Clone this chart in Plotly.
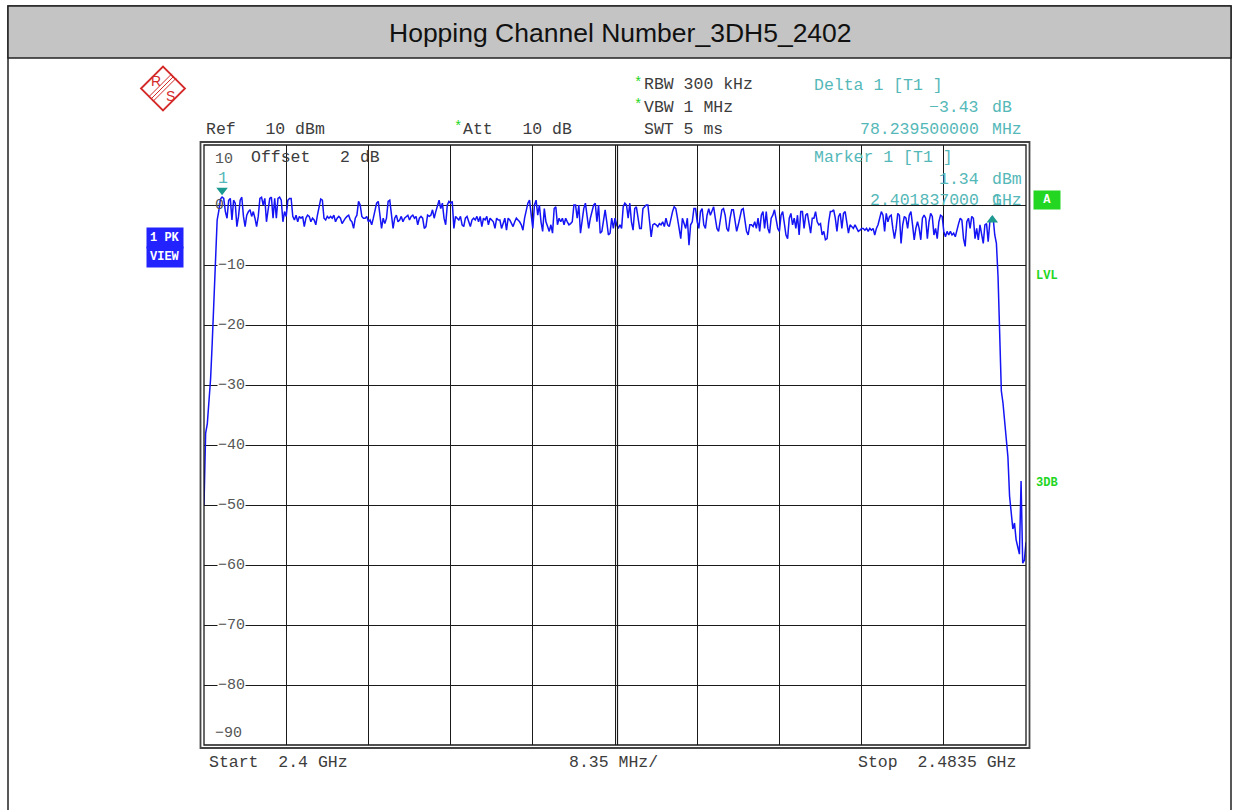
import numpy as np
import plotly.graph_objects as go

# ---- sweep settings -------------------------------------------------------
start_ghz = 2.4
stop_ghz = 2.4835
sweep_points = 501
freq_ghz = np.linspace(start_ghz, stop_ghz, sweep_points)

# ---- measured trace (dBm), grouped by sweep region ---------------------------
level_rise = [-50.0, -38.0, -36.5, -33.0, -29.0, -23.0, -16.0, -9.0, -2.5, -1.0, 1.0, 1.34]

level_band_1 = [
    1.1, -1.1, -2.2, 0.8, 1.1, -2.5, 0.8, 0.3, -3.6, -1.9,
    0.8, 1.3, -1.9, -3.6, -1.7, -1.1, -0.8, -1.9, -1.1, -2.2,
    -3.6, -1.9, 1.1, 1.3, 0.0, 1.1, -2.8, -0.8, 1.1, 1.3,
    -2.2, 1.1, -2.2, 1.1, 1.3, 0.8, -2.8, -1.1, -1.9, 0.8,
    1.1, 1.1, -1.9, -2.5, -1.7, -2.8, -1.9, -2.2, -1.9, -3.6,
    -2.2, -1.7, -1.9, -2.8, -2.2, -2.5, -3.3, -1.7, 0.0, 1.0,
    0.8, -2.2, -2.5, -1.9, -2.2, -1.9, -2.2, -1.7, -2.8, -2.2,
    -1.9, -2.2, -3.1, -2.5, -2.2, -1.9, -1.7, -2.5, -2.8, -3.9,
    -2.2, -1.7, 0.6, 0.0, -1.9, -2.2, -2.2, -1.9, -2.8, -2.5,
    -3.3, -2.2, -1.1, 0.3, 0.6, -2.2, -3.9, -2.2, -3.1, -2.2,
    0.6, 0.8, -1.7, -3.9, -2.2, -1.7, -2.8, -2.5, -1.9, -2.8,
    -2.2, -1.9, -1.7, -2.5,
]

level_band_2 = [
    -1.9, -1.7, -2.2, -1.9, -3.3, -2.2, -1.9, -2.2, -3.9, -3.6,
    -1.7, -1.9, -1.7, -0.8, -2.2, -1.1, 0.0, 0.8, -0.6, 0.3,
    -2.2, -3.3, 0.0, 0.6, 0.3, 0.6, -3.9, -1.9, -2.2, -2.5,
    -1.9, -3.3, -3.6, -2.2, -1.9, -2.8, -3.6, -2.5, -2.2, -2.5,
    -1.9, -2.8, -1.9, -3.6, -2.2, -2.5, -1.9, -3.3, -2.2, -2.5,
    -2.8, -3.9, -2.2, -2.5, -2.5, -3.9, -2.8, -2.2, -4.2, -2.2,
    -2.5, -3.1, -3.6, -2.8, -2.2, -2.5, -2.8, -3.3, -4.2, -2.2,
    -0.6, 0.3, 0.8, -2.2, -3.9, 0.0, 0.8, -1.7, 0.0, -2.8,
    -4.4, -0.6, -2.8, -3.6, -4.4, -3.3, -4.7, -0.6, -0.3, -3.3,
    -2.2, -2.8, -2.2, -3.3, -2.2, -2.8, -3.3, -3.1, -2.8, 0.0,
    0.0, -2.2, 0.0, -4.7, -2.2, -0.6, 0.3, -2.2, -3.9, -2.2,
    -1.1, 0.0, 0.3, -2.8, 0.0, -4.7, -4.4, -2.2, -0.8, -2.8,
    -5.0, -4.7, -2.2, -3.9, -2.2, -3.3, -3.9, -3.3,
]

level_band_3 = [
    -3.9, -0.3, 0.3, 0.0, -2.2, 0.3, -2.8, -4.2, -0.6, -0.3,
    -2.2, -3.9, -3.9, -0.6, -0.3, 0.0, 0.0, -2.2, -5.3, -3.3,
    -3.1, -3.3, -3.6, -3.1, -3.3, -2.8, -3.6, -2.2, -3.3, -3.6,
    -2.2, -1.1, -0.3, -0.6, -2.2, -3.9, -5.6, -2.2, -3.3, -3.9,
    -2.2, -6.7, -3.3, -2.8, -0.6, -0.6, -2.8, -3.9, -1.1, -0.6,
    -3.3, -3.9, -1.7, -0.6, -1.7, -0.8, -0.3, -2.2, -3.9, -4.4,
    -2.2, -0.8, -0.6, -1.7, -3.9, -4.4, -2.2, -0.8, -0.8, -2.8,
    -4.4, -3.3, -1.7, -0.8, -0.6, -2.2, -4.4, -5.0, -3.3, -3.3,
    -3.6, -2.8, -3.9, -2.2, -4.4, -1.7, -1.1, -3.9, -1.1, -3.9,
    -4.7, -2.2, -1.7, -0.8, -2.2, -3.9, -4.4, -1.7, -1.1, -2.8,
    -5.0, -5.6, -2.2, -1.4, -3.3, -2.2, -3.9, -1.7, -5.0, -1.1,
    -1.1, -3.9, -1.7, -1.4, -3.3, -4.7, -2.2, -2.2, -1.1, -2.8,
    -3.3, -3.1, -5.0, -4.4, -5.8, -5.6, -2.8, -1.1,
]

level_band_4 = [
    -1.1, -0.8, -2.2, -4.4, -1.9, -1.4, -3.9, -1.4, -1.1, -3.3,
    -4.7, -3.3, -3.6, -3.9, -3.3, -3.9, -4.4, -4.2, -3.9, -3.9,
    -4.2, -3.9, -4.4, -3.9, -4.2, -3.9, -5.0, -3.9, -3.3, -2.2,
    -1.1, -1.7, -4.4, -1.4, -2.8, -1.9, -1.7, -3.9, -5.6, -3.9,
    -1.4, -1.7, -6.4, -3.3, -1.9, -2.2, -3.9, -1.7, -1.1, -3.3,
    -5.8, -3.9, -2.8, -3.9, -5.8, -2.2, -1.7, -2.2, -5.6, -2.8,
    -1.4, -1.9, -5.0, -3.9, -5.6, -2.8, -1.7, -1.9, -4.4, -5.3,
    -4.4, -5.0, -4.4, -5.0, -4.7, -5.3, -3.9, -3.1, -2.2, -2.5,
    -5.6, -6.9, -2.8, -2.2, -3.9, -1.9, -2.2, -5.6, -3.9, -5.8,
    -3.3, -4.7, -6.4, -3.3, -3.1, -6.1, -2.8, -2.09, -2.09, -5.0,
]

level_fall = [-6.4, -12.0, -24.0, -31.0, -33.0, -36.0, -39.5, -42.0, -48.5, -51.0,
              -54.0, -53.0, -55.8, -57.0, -58.2, -46.0, -59.7, -59.2, -56.2]

level_dbm = level_rise + level_band_1 + level_band_2 + level_band_3 + level_band_4 + level_fall

# ---- markers -----------------------------------------------------------------
marker1_ghz = 2.401837
marker1_dbm = 1.34
delta1_mhz = 78.2395
delta1_db = -3.43
delta_ghz = marker1_ghz + delta1_mhz / 1000.0
delta_dbm = marker1_dbm + delta1_db

ref_dbm = 10
y_ticks = [10, 0, -10, -20, -30, -40, -50, -60, -70, -80, -90]

# ---- page geometry (pixels) --------------------------------------------------
W, H = 1233, 810
PL, PR, PT, PB = 204, 1026, 145, 745


def px(x):
    return (x - PL) / (PR - PL)


def py(y):
    return (PB - y) / (PB - PT)


MONO = "Liberation Mono"
SANS = "Liberation Sans"
GREY_TXT = "#3c3c3c"
TEAL = "#55b8b8"
GREEN = "#22d622"
BLUE = "#2323ff"
NB = "\u00a0"

fig = go.Figure()

fig.add_trace(go.Scatter(
    x=freq_ghz, y=level_dbm, mode="lines",
    line=dict(color="#1414f5", width=1.5),
    hoverinfo="skip", showlegend=False,
))

# marker symbols
fig.add_trace(go.Scatter(
    x=[marker1_ghz], y=[marker1_dbm + 1.1], mode="markers",
    marker=dict(symbol="triangle-down", size=10, color="#1d9a90"),
    hoverinfo="skip", showlegend=False, cliponaxis=False,
))
fig.add_trace(go.Scatter(
    x=[delta_ghz], y=[delta_dbm - 0.4], mode="markers",
    marker=dict(symbol="triangle-up", size=10, color="#1d9a90"),
    hoverinfo="skip", showlegend=False, cliponaxis=False,
))

shapes = []


def line(x0, y0, x1, y1, color="#1a1a1a", width=1.3):
    shapes.append(dict(type="line", xref="paper", yref="paper",
                       x0=px(x0), y0=py(y0), x1=px(x1), y1=py(y1),
                       line=dict(color=color, width=width)))


def rect(x0, y0, x1, y1, fill=None, color="#1a1a1a", width=1.3, layer="above"):
    shapes.append(dict(type="rect", xref="paper", yref="paper",
                       x0=px(x0), y0=py(y0), x1=px(x1), y1=py(y1),
                       fillcolor=fill if fill else "rgba(0,0,0,0)",
                       line=dict(color=color, width=width), layer=layer))


# page frame and title bar
rect(8, 6, 1231, 815, color="#222", width=1.5, layer="below")
rect(8, 6, 1231, 58, fill="#c4c4c4", color="#222", width=1.5, layer="below")

# graticule frame (double line) and double centre line
rect(PL, PT, PR, PB, color="#1a1a1a", width=1.3)
rect(200.5, 142, 1029.5, 748, color="#444", width=1.8)
line(617.5, PT, 617.5, PB, color="#1a1a1a", width=1.2)

# R&S logo
cx, cy = 163, 88.5
d = 22
shapes.append(dict(
    type="path", xref="paper", yref="paper",
    path="M {} {} L {} {} L {} {} L {} {} Z".format(
        px(cx - d), py(cy), px(cx), py(cy - d), px(cx + d), py(cy), px(cx), py(cy + d)),
    line=dict(color="#d42a2a", width=1.8), fillcolor="rgba(0,0,0,0)"))
for off in (-2.2, 0, 2.2):
    line(151 + off, 99 + off, 174 + off, 76 + off, color="#d42a2a", width=1.0)

fig.update_layout(shapes=shapes)

annotations = []


def note(x, y, text, color=GREY_TXT, size=16.5, anchor="left", bold=False,
         family=MONO, bg=None, pad=0):
    t = text.replace(" ", NB)
    if bold:
        t = "<b>" + t + "</b>"
    a = dict(xref="paper", yref="paper", x=px(x), y=py(y), text=t,
             showarrow=False, xanchor=anchor, yanchor="middle",
             font=dict(family=family, size=size, color=color))
    if bg:
        a["bgcolor"] = bg
        a["borderpad"] = pad
    annotations.append(a)


# title
note(620, 33, "Hopping Channel Number_3DH5_2402", color="#111", size=26.5,
     anchor="center", family=SANS)

# logo letters
note(156, 81, "R", color="#d42a2a", size=14, anchor="center", family=SANS)
note(170, 96, "S", color="#d42a2a", size=14, anchor="center", family=SANS)

# instrument settings
note(204, 129, "Ref   {} dBm".format(ref_dbm))
note(452, 127, "*", color=GREEN, size=14)
note(461, 129, "Att   10 dB")
note(632, 83, "*", color=GREEN, size=14)
note(642, 85, "RBW 300 kHz")
note(632, 105, "*", color=GREEN, size=14)
note(642, 107, "VBW 1 MHz")
note(642, 129, "SWT 5 ms")

# marker readouts
note(812, 86, "Delta 1 [T1 ]", color=TEAL)
note(981, 107, "{:.2f}".format(delta1_db).replace("-", "\u2212"), color=TEAL, anchor="right")
note(990, 107, "dB", color=TEAL)
note(981, 129, "{:.9f}".format(delta1_mhz), color=TEAL, anchor="right")
note(990, 129, "MHz", color=TEAL)
note(812, 158, "Marker 1 [T1 ]", color=TEAL)
note(981, 179, "{:.2f}".format(marker1_dbm), color=TEAL, anchor="right")
note(990, 179, "dBm", color=TEAL)
note(981, 200, "{:.9f}".format(marker1_ghz), color=TEAL, anchor="right")
note(990, 200, "GHz", color=TEAL)
note(990, 200, "1", color=TEAL)
note(222.5, 178, "1", color=TEAL, anchor="center")

# offset line inside the graticule
note(249, 158, "Offset   2 dB")

# level scale labels
for v in y_ticks:
    lab = str(v).replace("-", "\u2212")
    if v == ref_dbm:
        note(213, 159, lab, color="#555", size=15)
    elif v == y_ticks[-1]:
        note(213, 733, lab, color="#555", size=15)
    elif v == 0:
        note(213, PT + (ref_dbm - v) * 6, lab, color="#555", size=15)
    else:
        note(217, PT + (ref_dbm - v) * 6, lab, color="#555", size=15, bg="white")

# side indicators
note(146, 238, "1 PK", color="white", size=12, bold=True, bg=BLUE, pad=3)
note(146, 257, "VIEW", color="white", size=12, bold=True, bg=BLUE, pad=3)
note(1033, 200, " A ", color="white", size=12, bold=True, bg=GREEN, pad=2)
note(1034, 276, "LVL", color=GREEN, size=12, bold=True)
note(1034, 483, "3DB", color=GREEN, size=12, bold=True)

# frequency axis captions
note(207, 762, "Start  2.4 GHz")
note(567, 762, "8.35 MHz/")
note(1018, 762, "Stop  2.4835 GHz", anchor="right")

fig.update_layout(annotations=annotations)

fig.update_xaxes(range=[start_ghz, stop_ghz], tick0=start_ghz, dtick=(stop_ghz - start_ghz) / 10,
                 showgrid=True, gridcolor="#1a1a1a", gridwidth=1.2, zeroline=False,
                 showticklabels=False, ticks="", showline=False, fixedrange=True)
fig.update_yaxes(range=[-90, 10], tick0=0, dtick=10,
                 showgrid=True, gridcolor="#1a1a1a", gridwidth=1.2, zeroline=False,
                 showticklabels=False, ticks="", showline=False, fixedrange=True)

fig.update_layout(
    width=W, height=H,
    margin=dict(l=PL, r=W - PR, t=PT, b=H - PB, pad=0),
    paper_bgcolor="white", plot_bgcolor="white",
    showlegend=False,
)

fig.write_html("out.html", config={"displayModeBar": False})
